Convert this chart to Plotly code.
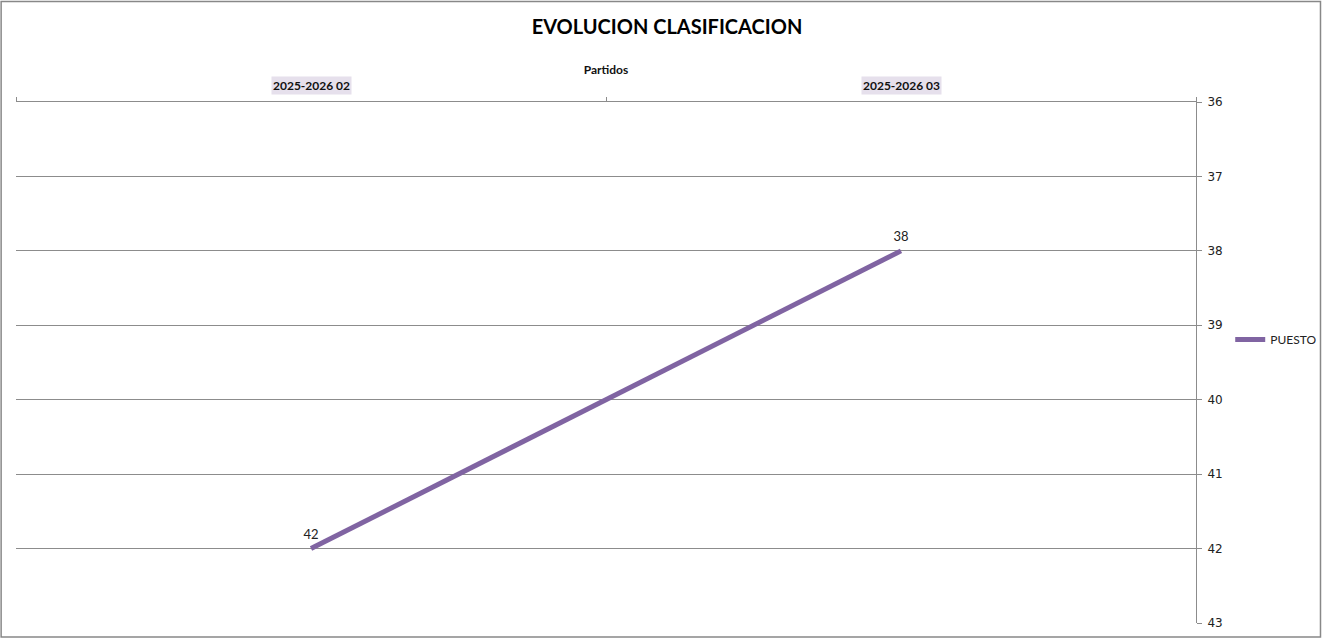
import plotly.graph_objects as go

partidos = ["2025-2026 02", "2025-2026 03"]
puesto = [42, 38]
y_ticks = [36, 37, 38, 39, 40, 41, 42, 43]

LINE = "#8064A2"
GRID = "#8C8C8C"
FONT = "Lato"

fig = go.Figure()

fig.add_trace(go.Scatter(
    x=partidos,
    y=puesto,
    mode="lines+markers+text",
    name="PUESTO",
    text=[str(v) for v in puesto],
    textposition="top center",
    textfont=dict(family=FONT, size=13, color="#222"),
    line=dict(color=LINE, width=5),
    marker=dict(size=9, color="rgba(0,0,0,0)"),
    showlegend=True,
))

# category labels with highlighted background
for p in partidos:
    fig.add_annotation(
        x=p, xref="x", y=1, yref="paper", yanchor="bottom", yshift=7,
        text="<b>%s</b>" % p, showarrow=False,
        bgcolor="#E6E0EC", font=dict(family=FONT, size=12, color="#111"),
        borderpad=1,
    )

# outer chart border
fig.add_shape(
    type="rect", xref="paper", yref="paper",
    x0=-0.0126, x1=1.1055, y0=-0.0267, y1=1.1927,
    line=dict(color="#888", width=1.5), fillcolor="rgba(0,0,0,0)",
)

fig.update_layout(
    width=1334,
    height=642,
    margin=dict(l=16, r=127, t=102, b=16),
    paper_bgcolor="white",
    plot_bgcolor="white",
    font=dict(family=FONT, color="#222"),
    showlegend=True,
    title=dict(
        text="<b>EVOLUCION CLASIFICACION</b>",
        x=0.5, xref="container", xanchor="center",
        y=0.958, yref="container", yanchor="middle",
        font=dict(family=FONT, size=20, color="#000"),
    ),
    legend=dict(
        x=1.029, xanchor="left", y=0.544, yanchor="middle",
        font=dict(family=FONT, size=12, color="#222"),
        itemwidth=30, bgcolor="rgba(0,0,0,0)",
    ),
    xaxis=dict(
        type="category",
        categoryorder="array",
        categoryarray=partidos,
        range=[-0.5, 1.5],
        side="top",
        showticklabels=False,
        tickson="boundaries",
        ticks="outside",
        ticklen=4,
        tickcolor=GRID,
        showline=True,
        linecolor=GRID,
        linewidth=1,
        showgrid=False,
        title=dict(text="<b>Partidos</b>", standoff=23,
                   font=dict(family=FONT, size=12, color="#111")),
    ),
    yaxis=dict(
        range=[43, 36],
        tickvals=y_ticks,
        side="right",
        showline=True,
        linecolor=GRID,
        linewidth=1,
        ticks="outside",
        ticklen=5,
        tickcolor=GRID,
        showgrid=True,
        gridcolor=GRID,
        gridwidth=1,
        zeroline=False,
        tickfont=dict(family="DejaVu Sans", size=12, color="#222"),
        ticklabelstandoff=3,
    ),
)

fig.write_html(
    "out.html",
    config={"displayModeBar": False},
    post_script="document.body.style.margin='0';document.body.style.overflow='hidden';",
)
